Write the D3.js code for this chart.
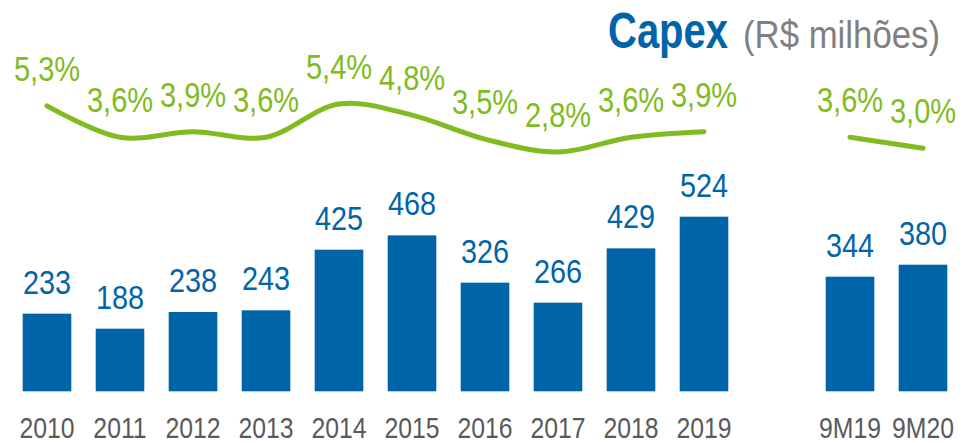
<html>
<head>
<meta http-equiv="Content-Type" content="text/html; charset=utf-8" />
<title>Capex (R$ milhões)</title>
<script src="https://cdn.jsdelivr.net/npm/d3@7"></script>
<style type="text/css">
	body{
		margin: 0;
		background: #fff;
	}
	text{
		font-family: "Liberation Sans", Arial, sans-serif;
	}
</style>
</head>
<body>
<div id="chart"></div>

<script type="text/javascript">
	// data
	var categories = ["2010","2011","2012","2013","2014","2015","2016","2017","2018","2019","9M19","9M20"];
	var capex = [233,188,238,243,425,468,326,266,429,524,344,380];
	var pctLabels = ["5,3%","3,6%","3,9%","3,6%","5,4%","4,8%","3,5%","2,8%","3,6%","3,9%","3,6%","3,0%"];
	var pctValues = [5.3,3.6,3.9,3.6,5.4,4.8,3.5,2.8,3.6,3.9,3.6,3.0];
	// the line is broken between the yearly and the 9M parts
	var lineGroups = [["2010","2011","2012","2013","2014","2015","2016","2017","2018","2019"],["9M19","9M20"]];

	var W = 963, H = 443;
	var blue = "#0064a8", green = "#80bb22", grey = "#5a5a5a";

	var svg = d3.select("#chart").append("svg")
		.attr("width", W)
		.attr("height", H);

	// one empty slot between 2019 and 9M19
	var slots = categories.slice(0,10).concat(["_gap"]).concat(categories.slice(10));
	var x = d3.scaleBand()
		.domain(slots)
		.range([10.5, 959.5])
		.paddingInner(0.334)
		.paddingOuter(0.167);

	var y = d3.scaleLinear()
		.domain([0, 524])
		.range([391.3, 216.7]);

	// % labels and line share one scale
	var p = d3.scaleLinear()
		.domain([2.8, 5.4])
		.range([127, 79]);

	var cx = function(c){ return x(c) + x.bandwidth()/2; };

	// bars
	svg.selectAll("rect.bar")
		.data(capex)
		.enter()
		.append("rect")
		.attr("class","bar")
		.attr("fill", blue)
		.attr("x", function(d,i){ return x(categories[i]); })
		.attr("width", x.bandwidth())
		.attr("y", function(d){ return y(d); })
		.attr("height", function(d){ return y(0) - y(d); });

	// bar values
	svg.selectAll("text.val")
		.data(capex)
		.enter()
		.append("text")
		.attr("class","val")
		.attr("fill", blue)
		.attr("font-size", 33.5)
		.attr("text-anchor","middle")
		.attr("transform", function(d,i){ return "translate(" + cx(categories[i]) + "," + (y(d) - 20) + ") scale(0.86,1)"; })
		.text(function(d){ return d; });

	// category labels
	svg.selectAll("text.cat")
		.data(categories)
		.enter()
		.append("text")
		.attr("class","cat")
		.attr("fill", grey)
		.attr("font-size", 29.5)
		.attr("text-anchor","middle")
		.attr("transform", function(d){ return "translate(" + cx(d) + ",437.7) scale(0.84,1)"; })
		.text(function(d){ return d; });

	// green line
	var line = d3.line()
		.x(function(d){ return cx(d); })
		.y(function(d){ return p(pctValues[categories.indexOf(d)]) + 25; })
		.curve(d3.curveCatmullRom.alpha(0.5));

	svg.selectAll("path.pct")
		.data(lineGroups)
		.enter()
		.append("path")
		.attr("class","pct")
		.attr("fill","none")
		.attr("stroke", green)
		.attr("stroke-width", 5)
		.attr("stroke-linecap","round")
		.attr("d", line);

	// % labels
	svg.selectAll("text.pctl")
		.data(pctLabels)
		.enter()
		.append("text")
		.attr("class","pctl")
		.attr("fill", green)
		.attr("font-size", 35)
		.attr("text-anchor","middle")
		.attr("transform", function(d,i){ return "translate(" + cx(categories[i]) + "," + p(pctValues[i]) + ") scale(0.83,1)"; })
		.text(function(d){ return d; });

	// title
	var title = svg.append("text")
		.attr("transform","translate(608,48.3) scale(0.8,1)");
	title.append("tspan")
		.attr("fill", blue)
		.attr("font-size", 50)
		.attr("font-weight","bold")
		.text("Capex");
	svg.append("text")
		.attr("fill", "#808080")
		.attr("font-size", 38)
		.attr("transform","translate(743,48.3) scale(0.915,1)")
		.text("(R$ milhões)");
</script>
</body>
</html>
